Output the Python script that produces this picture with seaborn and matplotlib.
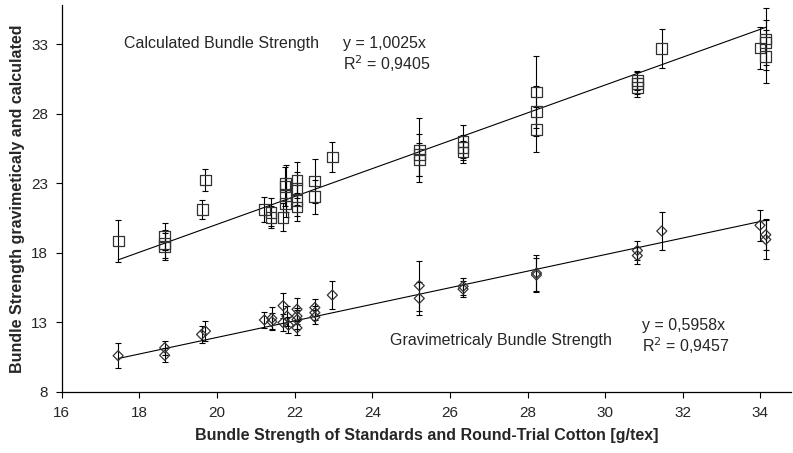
import matplotlib
matplotlib.use("Agg")
import matplotlib.pyplot as plt
import seaborn as sns
import numpy as np
import pandas as pd

# Calculated bundle strength (squares)
calc_x = [17.45, 18.65, 18.65, 18.65, 19.62, 19.70, 21.22, 21.39, 21.39, 21.70,
          21.77, 21.77, 21.77, 21.75, 22.06, 22.06, 22.06, 22.06, 22.52, 22.52,
          22.97, 25.21, 25.21, 25.21, 26.34, 26.34, 26.34, 28.23, 28.23, 28.23,
          30.83, 30.83, 30.83, 31.46, 33.99, 34.14, 34.14, 34.14]
calc_y = [18.85, 19.18, 18.65, 18.46, 21.10, 23.24, 21.10, 20.93, 20.57, 20.57,
          23.00, 22.15, 21.55, 22.76, 23.24, 22.64, 21.78, 21.30, 23.17, 22.03,
          24.90, 25.40, 25.05, 24.70, 26.00, 25.60, 25.25, 29.57, 28.19, 26.86,
          30.40, 30.20, 29.90, 32.70, 32.73, 33.38, 33.14, 32.10]
calc_err = [1.5, 1.0, 1.0, 1.0, 0.7, 0.8, 0.9, 1.0, 0.8, 1.0,
            1.3, 1.2, 1.0, 1.4, 1.3, 1.2, 1.1, 1.0, 1.6, 1.2,
            1.1, 2.3, 1.5, 1.2, 1.2, 0.9, 0.8, 2.6, 1.8, 1.6,
            0.7, 0.8, 0.7, 1.4, 1.5, 2.2, 1.6, 1.9]

# Gravimetric bundle strength (diamonds)
grav_x = [17.45, 18.65, 18.65, 19.60, 19.70, 21.22, 21.41, 21.41, 21.70, 21.70,
          21.80, 21.84, 22.06, 22.06, 22.06, 22.06, 22.52, 22.52, 22.52, 22.97,
          25.21, 25.21, 26.34, 26.34, 28.23, 28.23, 30.83, 30.83, 31.46, 33.99,
          34.14, 34.14]
grav_y = [10.60, 11.17, 10.63, 12.13, 12.37, 13.17, 13.29, 13.05, 14.20, 12.98,
          13.45, 12.80, 13.94, 13.45, 13.20, 12.60, 14.06, 13.70, 13.38, 14.96,
          15.64, 14.72, 15.59, 15.39, 16.55, 16.40, 18.17, 17.80, 19.57, 19.98,
          19.30, 18.96]
grav_err = [0.9, 0.5, 0.5, 0.6, 0.7, 0.6, 0.8, 0.6, 0.9, 0.6,
            0.7, 0.6, 0.8, 0.6, 0.7, 0.5, 0.6, 0.5, 0.5, 1.0,
            1.8, 1.2, 0.6, 0.6, 1.3, 1.2, 0.7, 0.6, 1.4, 1.1,
            1.1, 1.4]

slope_calc = 1.0025
slope_grav = 0.5958
fit_range = [17.45, 34.14]

x_ticks = [16, 18, 20, 22, 24, 26, 28, 30, 32, 34]
y_ticks = [8, 13, 18, 23, 28, 33]

sns.set_theme(style="ticks")
plt.rcParams['font.family'] = ['Liberation Sans', 'DejaVu Sans']

fig = plt.figure(figsize=(7.93, 4.53), dpi=100)
ax = fig.add_axes([0.078, 0.135, 0.92, 0.853])

df_c = pd.DataFrame({"x": calc_x, "y": calc_y})
df_g = pd.DataFrame({"x": grav_x, "y": grav_y})

ax.errorbar(calc_x, calc_y, yerr=calc_err, fmt='none', ecolor='black',
            elinewidth=0.8, capsize=2.3, capthick=0.8, zorder=2)
ax.errorbar(grav_x, grav_y, yerr=grav_err, fmt='none', ecolor='black',
            elinewidth=0.8, capsize=2.3, capthick=0.8, zorder=2)

fx = np.array(fit_range)
ax.plot(fx, slope_calc * fx, color='black', lw=0.8, zorder=3)
ax.plot(fx, slope_grav * fx, color='black', lw=0.8, zorder=3)

sns.scatterplot(data=df_c, x="x", y="y", marker='s', s=60, facecolor='none',
                edgecolor='#333333', linewidth=0.9, ax=ax, zorder=4)
sns.scatterplot(data=df_g, x="x", y="y", marker='D', s=26, facecolor='none',
                edgecolor='#333333', linewidth=0.9, ax=ax, zorder=4)

ax.set_xlim(16, 34.8)
ax.set_ylim(8, 35.8)
ax.set_xticks(x_ticks)
ax.set_yticks(y_ticks)
ax.tick_params(labelsize=11, length=4, width=0.8, color='black', pad=6)
for s in ['top', 'right']:
    ax.spines[s].set_visible(False)
for s in ['left', 'bottom']:
    ax.spines[s].set_linewidth(0.9)
    ax.spines[s].set_color('black')

ax.set_xlabel("Bundle Strength of Standards and Round-Trial Cotton [g/tex]",
              fontsize=11.5, fontweight='bold', labelpad=6)
ax.set_ylabel("Bundle Strength gravimeticaly and calculated",
              fontsize=11.5, fontweight='bold', labelpad=4)

fs = 11.5
ax.text(17.6, 33.05, "Calculated Bundle Strength", fontsize=fs, va='center')
ax.text(23.24, 33.05, "y = 1,0025x", fontsize=fs, va='center')
ax.text(23.24, 31.6, "R$^2$ = 0,9405", fontsize=fs, va='center')
ax.text(24.45, 11.7, "Gravimetricaly Bundle Strength", fontsize=fs, va='center')
ax.text(30.96, 12.75, "y = 0,5958x", fontsize=fs, va='center')
ax.text(30.96, 11.3, "R$^2$ = 0,9457", fontsize=fs, va='center')

fig.savefig("out.png", dpi=100)
